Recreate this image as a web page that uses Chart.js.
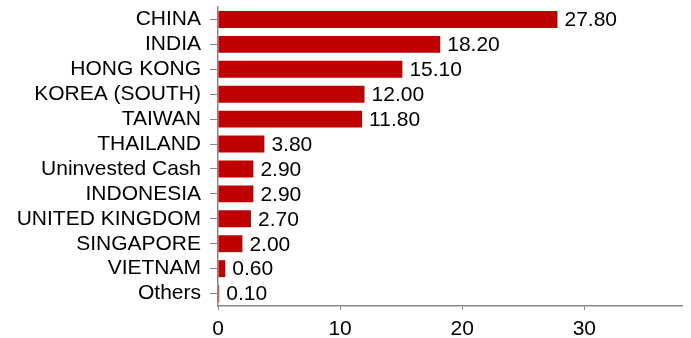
<!DOCTYPE html>
<html lang="en">
	<head>
		<meta charset="UTF-8" />
		<script src="https://cdn.jsdelivr.net/npm/chart.js@4/dist/chart.umd.min.js"></script>
		<title>Country allocation</title>
		<style>
			body { margin: 0; background: #fff; }
			#wrap { width: 691px; height: 338px; }
		</style>
	</head>
	<body>
		<div id="wrap"><canvas id="allocChart"></canvas></div>
	<script>
		let countries = ['CHINA', 'INDIA', 'HONG KONG', 'KOREA (SOUTH)', 'TAIWAN', 'THAILAND', 'Uninvested Cash', 'INDONESIA', 'UNITED KINGDOM', 'SINGAPORE', 'VIETNAM', 'Others'];
		let weights = [27.8, 18.2, 15.1, 12.0, 11.8, 3.8, 2.9, 2.9, 2.7, 2.0, 0.6, 0.1];
		let xTicks = [0, 10, 20, 30];

		let fontFamily = '"Liberation Sans", Arial, sans-serif';

		// draws the value next to each bar
		let valueLabels = {
			id: 'valueLabels',
			afterDatasetsDraw(chart) {
				let ctx = chart.ctx;
				let meta = chart.getDatasetMeta(0);
				ctx.save();
				ctx.font = '21px ' + fontFamily;
				ctx.fillStyle = '#000';
				ctx.textBaseline = 'middle';
				ctx.textAlign = 'left';
				meta.data.forEach((bar, i) => {
					ctx.fillText(weights[i].toFixed(2), bar.x + 7, bar.y + 1);
				});
				ctx.restore();
			},
		};

		let allocChart = new Chart(document.getElementById('allocChart'), {
			type: 'bar',
			data: {
				labels: countries,
				datasets: [
					{
						data: weights,
						backgroundColor: '#c00000',
						categoryPercentage: 1,
						barPercentage: 0.68,
					},
				],
			},
			options: {
				indexAxis: 'y',
				responsive: true,
				maintainAspectRatio: false,
				animation: false,
				layout: { padding: { top: 7, right: 9, left: 0, bottom: 0 } },
				plugins: { legend: { display: false }, tooltip: { enabled: false } },
				scales: {
					x: {
						min: 0,
						max: 38,
						afterBuildTicks(axis) {
							axis.ticks = xTicks.map(v => ({ value: v }));
						},
						afterFit(axis) {
							axis.height = 32;
							axis.paddingLeft = 0;
							axis.paddingRight = 0;
						},
						grid: { drawOnChartArea: false, tickLength: 4, tickColor: '#888' },
						border: { color: '#888', width: 1.5 },
						ticks: { color: '#000', font: { size: 21, family: fontFamily }, padding: 7 },
					},
					y: {
						afterFit(axis) {
							axis.width = 218;
							axis.paddingTop = 0;
							axis.paddingBottom = 0;
						},
						grid: { drawOnChartArea: false, tickLength: 8, tickColor: '#888', offset: false },
						border: { color: '#888', width: 1.5 },
						ticks: { color: '#000', autoSkip: false, font: { size: 21, family: fontFamily }, padding: 9 },
					},
				},
			},
			plugins: [valueLabels],
		});
	</script>
	</body>
</html>
